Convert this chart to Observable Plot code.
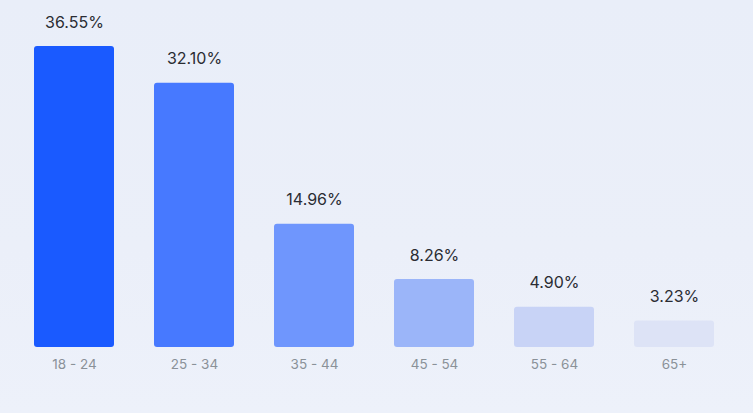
<!DOCTYPE html>
<html>
<head>
<meta charset="utf-8">
<script src="https://cdn.jsdelivr.net/npm/d3@7"></script>
<script src="https://cdn.jsdelivr.net/npm/@observablehq/plot@0.6"></script>
<style>
  html, body { margin: 0; padding: 0; }
  body {
    width: 753px; height: 413px; overflow: hidden;
    background: linear-gradient(180deg, #e9eef9 0%, #ebeff9 60%, #edf1fa 100%);
  }
</style>
</head>
<body>
<div id="chart"></div>
<script>
const ageGroups = ["18 - 24", "25 - 34", "35 - 44", "45 - 54", "55 - 64", "65+"];
const shares = [36.55, 32.10, 14.96, 8.26, 4.90, 3.23];
const valueLabels = ["36.55%", "32.10%", "14.96%", "8.26%", "4.90%", "3.23%"];
const barColors = ["#1a5aff", "#4779ff", "#6f96fd", "#9bb5f9", "#c8d3f6", "#dde3f6"];

const data = ageGroups.map((g, i) => ({group: g, value: shares[i], label: valueLabels[i], color: barColors[i]}));

const chart = Plot.plot({
  width: 753,
  height: 413,
  marginLeft: 12,
  marginRight: 17,
  marginTop: 46,
  marginBottom: 66,
  style: {background: "transparent", fontFamily: "Inter, 'Open Sans', sans-serif"},
  x: {domain: ageGroups, paddingInner: 0.336, paddingOuter: 0.168, label: null},
  y: {domain: [0, 36.55], axis: null},
  marks: [
    Plot.barY(data, {x: "group", y: "value", fill: "color", rx: 3}),
    Plot.text(data, {x: "group", y: "value", text: "label", dy: -24, fontSize: 16, fill: "#2a2c33"}),
    Plot.axisX({tickSize: 0, tickPadding: 12, fontSize: 13.5, color: "#8a9198", label: null})
  ]
});
document.getElementById("chart").appendChild(chart);
</script>
</body>
</html>
